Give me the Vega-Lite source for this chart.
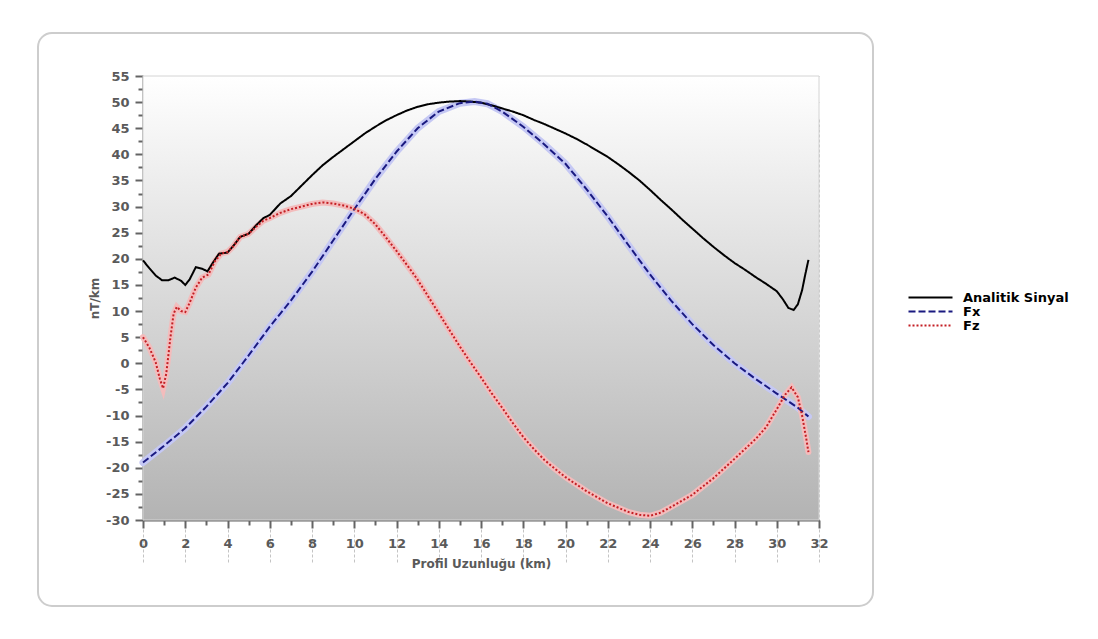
{
  "$schema": "https://vega.github.io/schema/vega-lite/v6.json",
  "autosize": "none",
  "width": 835,
  "height": 573,
  "padding": {"left": 38, "top": 33, "right": 225, "bottom": 33},
  "background": "#ffffff",
  "config": {
    "view": {"stroke": "#cdcdcd", "strokeWidth": 2, "cornerRadius": 14, "fill": "#ffffff"},
    "axis": {
      "zindex": 1,
      "domainColor": "#646464",
      "domainWidth": 2,
      "tickColor": "#646464",
      "tickWidth": 2,
      "grid": true,
      "gridColor": "#c4c4c4",
      "gridDash": [3, 2],
      "gridWidth": 1,
      "labelFont": "DejaVu Sans",
      "labelFontWeight": "bold",
      "labelFontSize": 13,
      "labelColor": "#5a5a5a",
      "labelOverlap": false,
      "labelFlush": false,
      "titleFont": "DejaVu Sans",
      "titleFontWeight": "bold",
      "titleFontSize": 12,
      "titleColor": "#5a5a5a"
    }
  },
  "datasets": {
    "panel": [{"x": 0, "x2": 32, "y": -30, "y2": 55}],
    "curves": [
      {"s": "Analitik Sinyal", "x": 0, "y": 19.7},
      {"s": "Analitik Sinyal", "x": 0.3, "y": 18.2},
      {"s": "Analitik Sinyal", "x": 0.6, "y": 16.8},
      {"s": "Analitik Sinyal", "x": 0.9, "y": 15.9},
      {"s": "Analitik Sinyal", "x": 1.2, "y": 15.9},
      {"s": "Analitik Sinyal", "x": 1.5, "y": 16.4},
      {"s": "Analitik Sinyal", "x": 1.8, "y": 15.8},
      {"s": "Analitik Sinyal", "x": 2.0, "y": 15.0},
      {"s": "Analitik Sinyal", "x": 2.2, "y": 16.0},
      {"s": "Analitik Sinyal", "x": 2.5, "y": 18.4},
      {"s": "Analitik Sinyal", "x": 2.8, "y": 18.1},
      {"s": "Analitik Sinyal", "x": 3.05, "y": 17.6},
      {"s": "Analitik Sinyal", "x": 3.3, "y": 19.2},
      {"s": "Analitik Sinyal", "x": 3.6, "y": 21.0},
      {"s": "Analitik Sinyal", "x": 4.0, "y": 21.2},
      {"s": "Analitik Sinyal", "x": 4.3, "y": 22.6},
      {"s": "Analitik Sinyal", "x": 4.6, "y": 24.2},
      {"s": "Analitik Sinyal", "x": 5.0, "y": 24.8},
      {"s": "Analitik Sinyal", "x": 5.4, "y": 26.6},
      {"s": "Analitik Sinyal", "x": 5.7, "y": 27.8},
      {"s": "Analitik Sinyal", "x": 6.0, "y": 28.4},
      {"s": "Analitik Sinyal", "x": 6.5, "y": 30.6},
      {"s": "Analitik Sinyal", "x": 7.0, "y": 32.0},
      {"s": "Analitik Sinyal", "x": 7.5, "y": 34.0},
      {"s": "Analitik Sinyal", "x": 8.0, "y": 36.0},
      {"s": "Analitik Sinyal", "x": 8.5, "y": 37.9},
      {"s": "Analitik Sinyal", "x": 9.0, "y": 39.5},
      {"s": "Analitik Sinyal", "x": 9.5, "y": 41.0},
      {"s": "Analitik Sinyal", "x": 10.0, "y": 42.5},
      {"s": "Analitik Sinyal", "x": 10.5, "y": 44.0},
      {"s": "Analitik Sinyal", "x": 11.0, "y": 45.3},
      {"s": "Analitik Sinyal", "x": 11.5, "y": 46.5},
      {"s": "Analitik Sinyal", "x": 12.0, "y": 47.5},
      {"s": "Analitik Sinyal", "x": 12.5, "y": 48.4},
      {"s": "Analitik Sinyal", "x": 13.0, "y": 49.1},
      {"s": "Analitik Sinyal", "x": 13.5, "y": 49.6},
      {"s": "Analitik Sinyal", "x": 14.0, "y": 49.9},
      {"s": "Analitik Sinyal", "x": 14.5, "y": 50.1},
      {"s": "Analitik Sinyal", "x": 15.0, "y": 50.2},
      {"s": "Analitik Sinyal", "x": 15.5, "y": 50.1},
      {"s": "Analitik Sinyal", "x": 16.0, "y": 49.9},
      {"s": "Analitik Sinyal", "x": 16.5, "y": 49.4},
      {"s": "Analitik Sinyal", "x": 17.0, "y": 48.8},
      {"s": "Analitik Sinyal", "x": 17.5, "y": 48.2},
      {"s": "Analitik Sinyal", "x": 18.0, "y": 47.5},
      {"s": "Analitik Sinyal", "x": 18.5, "y": 46.6},
      {"s": "Analitik Sinyal", "x": 19.0, "y": 45.8},
      {"s": "Analitik Sinyal", "x": 19.5, "y": 44.9},
      {"s": "Analitik Sinyal", "x": 20.0, "y": 44.0},
      {"s": "Analitik Sinyal", "x": 20.5, "y": 43.0},
      {"s": "Analitik Sinyal", "x": 21.0, "y": 41.9},
      {"s": "Analitik Sinyal", "x": 21.5, "y": 40.7},
      {"s": "Analitik Sinyal", "x": 22.0, "y": 39.5},
      {"s": "Analitik Sinyal", "x": 22.5, "y": 38.1},
      {"s": "Analitik Sinyal", "x": 23.0, "y": 36.6},
      {"s": "Analitik Sinyal", "x": 23.5, "y": 35.0},
      {"s": "Analitik Sinyal", "x": 24.0, "y": 33.2},
      {"s": "Analitik Sinyal", "x": 24.5, "y": 31.3},
      {"s": "Analitik Sinyal", "x": 25.0, "y": 29.5},
      {"s": "Analitik Sinyal", "x": 25.5, "y": 27.6},
      {"s": "Analitik Sinyal", "x": 26.0, "y": 25.8},
      {"s": "Analitik Sinyal", "x": 26.5, "y": 24.0},
      {"s": "Analitik Sinyal", "x": 27.0, "y": 22.3},
      {"s": "Analitik Sinyal", "x": 27.5, "y": 20.7},
      {"s": "Analitik Sinyal", "x": 28.0, "y": 19.2},
      {"s": "Analitik Sinyal", "x": 28.5, "y": 17.9},
      {"s": "Analitik Sinyal", "x": 29.0, "y": 16.5},
      {"s": "Analitik Sinyal", "x": 29.5, "y": 15.2},
      {"s": "Analitik Sinyal", "x": 30.0, "y": 13.8},
      {"s": "Analitik Sinyal", "x": 30.3, "y": 12.2},
      {"s": "Analitik Sinyal", "x": 30.55, "y": 10.6},
      {"s": "Analitik Sinyal", "x": 30.8, "y": 10.2},
      {"s": "Analitik Sinyal", "x": 31.0, "y": 11.3},
      {"s": "Analitik Sinyal", "x": 31.2, "y": 14.0},
      {"s": "Analitik Sinyal", "x": 31.35, "y": 17.0},
      {"s": "Analitik Sinyal", "x": 31.5, "y": 19.8},
      {"s": "Fx", "x": 0, "y": -19.0},
      {"s": "Fx", "x": 1, "y": -15.8},
      {"s": "Fx", "x": 2, "y": -12.4},
      {"s": "Fx", "x": 3, "y": -8.3},
      {"s": "Fx", "x": 4, "y": -3.8},
      {"s": "Fx", "x": 5, "y": 1.5},
      {"s": "Fx", "x": 6, "y": 7.0},
      {"s": "Fx", "x": 7, "y": 12.0},
      {"s": "Fx", "x": 8, "y": 17.5},
      {"s": "Fx", "x": 9, "y": 23.5},
      {"s": "Fx", "x": 10, "y": 29.5},
      {"s": "Fx", "x": 11, "y": 35.3},
      {"s": "Fx", "x": 12, "y": 40.5},
      {"s": "Fx", "x": 13, "y": 45.0},
      {"s": "Fx", "x": 14, "y": 48.2},
      {"s": "Fx", "x": 15, "y": 49.8},
      {"s": "Fx", "x": 15.7, "y": 50.1},
      {"s": "Fx", "x": 16.3, "y": 49.7},
      {"s": "Fx", "x": 17, "y": 48.2},
      {"s": "Fx", "x": 18, "y": 45.3},
      {"s": "Fx", "x": 19, "y": 41.9},
      {"s": "Fx", "x": 20, "y": 38.2},
      {"s": "Fx", "x": 21, "y": 33.3},
      {"s": "Fx", "x": 22, "y": 28.1},
      {"s": "Fx", "x": 23, "y": 22.5},
      {"s": "Fx", "x": 24, "y": 17.0},
      {"s": "Fx", "x": 25, "y": 12.0},
      {"s": "Fx", "x": 26, "y": 7.5},
      {"s": "Fx", "x": 27, "y": 3.5},
      {"s": "Fx", "x": 28, "y": 0.0},
      {"s": "Fx", "x": 29, "y": -3.0},
      {"s": "Fx", "x": 30, "y": -5.8},
      {"s": "Fx", "x": 31, "y": -8.5},
      {"s": "Fx", "x": 31.5, "y": -10.2},
      {"s": "Fz", "x": 0, "y": 5.0},
      {"s": "Fz", "x": 0.3, "y": 3.0},
      {"s": "Fz", "x": 0.6, "y": 0.2},
      {"s": "Fz", "x": 0.8, "y": -3.0},
      {"s": "Fz", "x": 0.95, "y": -4.8},
      {"s": "Fz", "x": 1.1, "y": -2.0},
      {"s": "Fz", "x": 1.3, "y": 5.0},
      {"s": "Fz", "x": 1.45, "y": 9.5},
      {"s": "Fz", "x": 1.6, "y": 10.8},
      {"s": "Fz", "x": 1.8, "y": 10.0},
      {"s": "Fz", "x": 2.0, "y": 9.8},
      {"s": "Fz", "x": 2.2, "y": 11.5},
      {"s": "Fz", "x": 2.5, "y": 14.5},
      {"s": "Fz", "x": 2.8, "y": 16.4},
      {"s": "Fz", "x": 3.1, "y": 17.0},
      {"s": "Fz", "x": 3.4, "y": 19.5},
      {"s": "Fz", "x": 3.7, "y": 21.0},
      {"s": "Fz", "x": 4.0, "y": 21.3},
      {"s": "Fz", "x": 4.3, "y": 22.5},
      {"s": "Fz", "x": 4.6, "y": 24.2},
      {"s": "Fz", "x": 5.0, "y": 24.8},
      {"s": "Fz", "x": 5.4, "y": 26.3},
      {"s": "Fz", "x": 5.7, "y": 27.3},
      {"s": "Fz", "x": 6.0, "y": 27.8},
      {"s": "Fz", "x": 6.5, "y": 28.8},
      {"s": "Fz", "x": 7.0, "y": 29.5},
      {"s": "Fz", "x": 7.5, "y": 30.0},
      {"s": "Fz", "x": 8.0, "y": 30.5},
      {"s": "Fz", "x": 8.5, "y": 30.8},
      {"s": "Fz", "x": 9.0, "y": 30.6},
      {"s": "Fz", "x": 9.5, "y": 30.2},
      {"s": "Fz", "x": 10.0, "y": 29.6},
      {"s": "Fz", "x": 10.5, "y": 28.5},
      {"s": "Fz", "x": 11.0, "y": 26.6},
      {"s": "Fz", "x": 11.5, "y": 24.1},
      {"s": "Fz", "x": 12.0, "y": 21.5},
      {"s": "Fz", "x": 12.5, "y": 18.8},
      {"s": "Fz", "x": 13.0, "y": 16.0},
      {"s": "Fz", "x": 13.5, "y": 12.8},
      {"s": "Fz", "x": 14.0, "y": 9.6},
      {"s": "Fz", "x": 14.5, "y": 6.4},
      {"s": "Fz", "x": 15.0, "y": 3.2},
      {"s": "Fz", "x": 15.5, "y": 0.2},
      {"s": "Fz", "x": 16.0, "y": -2.7},
      {"s": "Fz", "x": 16.5, "y": -5.7},
      {"s": "Fz", "x": 17.0, "y": -8.5},
      {"s": "Fz", "x": 17.5, "y": -11.4},
      {"s": "Fz", "x": 18.0, "y": -14.1},
      {"s": "Fz", "x": 18.5, "y": -16.4},
      {"s": "Fz", "x": 19.0, "y": -18.5},
      {"s": "Fz", "x": 19.5, "y": -20.2},
      {"s": "Fz", "x": 20.0, "y": -21.8},
      {"s": "Fz", "x": 21.0, "y": -24.5},
      {"s": "Fz", "x": 22.0, "y": -26.8},
      {"s": "Fz", "x": 23.0, "y": -28.5},
      {"s": "Fz", "x": 23.5, "y": -29.0},
      {"s": "Fz", "x": 24.0, "y": -29.2},
      {"s": "Fz", "x": 24.5, "y": -28.6},
      {"s": "Fz", "x": 25.0, "y": -27.5},
      {"s": "Fz", "x": 26.0, "y": -25.2},
      {"s": "Fz", "x": 27.0, "y": -22.0},
      {"s": "Fz", "x": 28.0, "y": -18.3},
      {"s": "Fz", "x": 29.0, "y": -14.5},
      {"s": "Fz", "x": 29.5, "y": -12.2},
      {"s": "Fz", "x": 30.0, "y": -8.8},
      {"s": "Fz", "x": 30.4, "y": -6.0},
      {"s": "Fz", "x": 30.7, "y": -4.6},
      {"s": "Fz", "x": 31.0, "y": -6.5},
      {"s": "Fz", "x": 31.2, "y": -10.0},
      {"s": "Fz", "x": 31.4, "y": -14.5},
      {"s": "Fz", "x": 31.5, "y": -17.0}
    ]
  },
  "encoding": {
    "x": {
      "field": "x", "type": "quantitative", "title": "Profil Uzunluğu (km)",
      "scale": {"domain": [0, 32], "range": [105, 781], "nice": false, "zero": false},
      "axis": {
        "offset": -86,
        "values": [0,1,2,3,4,5,6,7,8,9,10,11,12,13,14,15,16,17,18,19,20,21,22,23,24,25,26,27,28,29,30,31,32],
        "labelExpr": "datum.value % 2 === 0 ? toString(datum.value) : ''",
        "tickSize": {"condition": {"test": "datum.value % 2 === 0", "value": 8}, "value": 5},
        "gridOpacity": {"condition": {"test": "datum.value % 2 === 0", "value": 1}, "value": 0},
        "labelPadding": 9,
        "titlePadding": 8
      }
    },
    "y": {
      "field": "y", "type": "quantitative", "title": "nT/km",
      "scale": {"domain": [-30, 55], "range": [487, 43], "nice": false, "zero": false},
      "axis": {
        "offset": -105,
        "values": [-30,-27.5,-25,-22.5,-20,-17.5,-15,-12.5,-10,-7.5,-5,-2.5,0,2.5,5,7.5,10,12.5,15,17.5,20,22.5,25,27.5,30,32.5,35,37.5,40,42.5,45,47.5,50,52.5,55],
        "labelExpr": "datum.value % 5 === 0 ? toString(datum.value) : ''",
        "tickSize": {"condition": {"test": "datum.value % 5 === 0", "value": 8}, "value": 5},
        "gridOpacity": {"condition": {"test": "datum.value % 5 === 0", "value": 1}, "value": 0},
        "labelPadding": 6,
        "titlePadding": 4
      }
    }
  },
  "layer": [
    {
      "data": {"name": "panel"},
      "mark": {
        "type": "rect",
        "stroke": "#d4d4d4",
        "strokeWidth": 1,
        "fill": {
          "gradient": "linear", "x1": 0, "y1": 0, "x2": 0, "y2": 1,
          "stops": [{"offset": 0, "color": "#ffffff"}, {"offset": 1, "color": "#b3b3b3"}]
        }
      },
      "encoding": {
        "x2": {"field": "x2"},
        "y2": {"field": "y2"}
      }
    },
    {
      "data": {"name": "curves"},
      "transform": [{"filter": "datum.s === 'Fx'"}],
      "mark": {"type": "line", "color": "#c5c8f4", "strokeWidth": 7, "strokeCap": "round"},
      "encoding": {}
    },
    {
      "data": {"name": "curves"},
      "transform": [{"filter": "datum.s === 'Fz'"}],
      "mark": {"type": "line", "color": "#f3bcbc", "strokeWidth": 6, "strokeCap": "round"},
      "encoding": {}
    },
    {
      "data": {"name": "curves"},
      "mark": {"type": "line", "strokeWidth": 2},
      "encoding": {
        "color": {
          "field": "s", "type": "nominal",
          "scale": {"domain": ["Analitik Sinyal", "Fx", "Fz"], "range": ["#000000", "#1a1a80", "#c41f24"]},
          "legend": {
            "orient": "none",
            "legendX": 886,
            "legendY": 258,
            "title": null,
            "labelFont": "DejaVu Sans",
            "labelFontWeight": "bold",
            "labelFontSize": 13,
            "labelColor": "#000000",
            "labelLimit": 300,
            "symbolType": "M-4,0H4",
            "symbolSize": 121,
            "symbolStrokeWidth": 2,
            "rowPadding": 0,
            "labelOffset": 26
          }
        },
        "strokeDash": {
          "field": "s", "type": "nominal",
          "scale": {"domain": ["Analitik Sinyal", "Fx", "Fz"], "range": [[1, 0], [7, 3], [2, 2]]}
        }
      }
    }
  ]
}
